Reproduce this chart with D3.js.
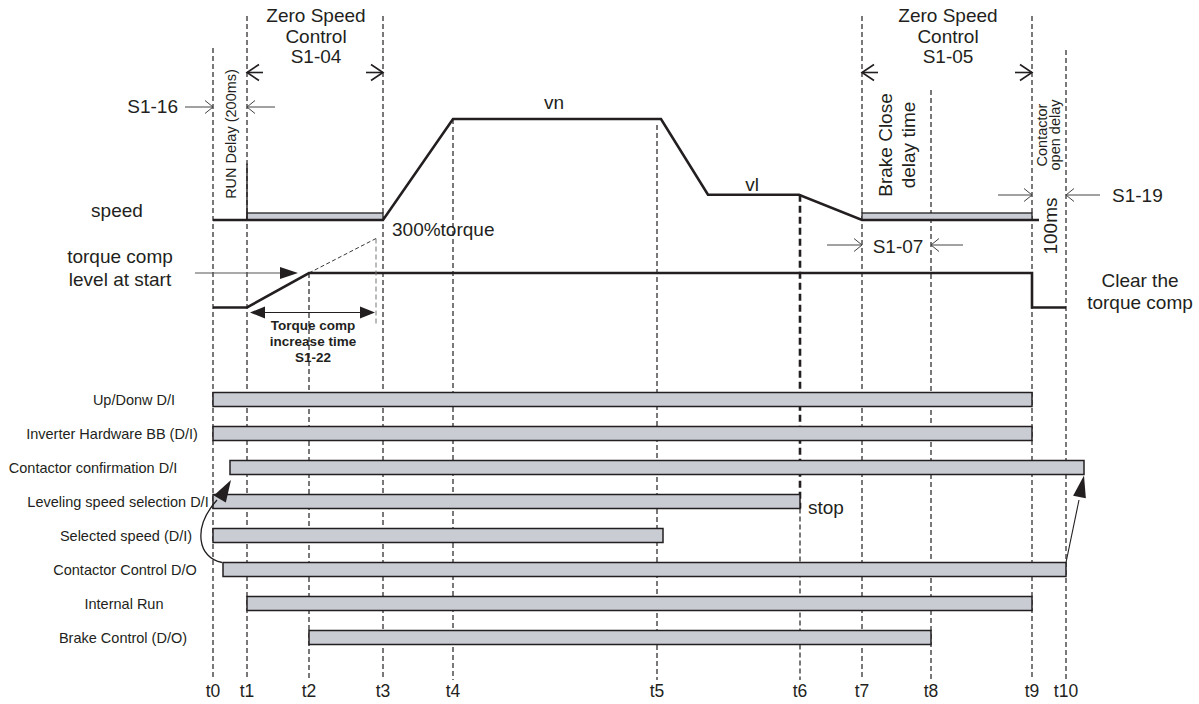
<!DOCTYPE html>
<html><head><meta charset="utf-8">
<script src="https://cdn.jsdelivr.net/npm/d3@7"></script>
<style>
body{margin:0;background:#fff}
svg{display:block}
text{font-family:"Liberation Sans",Arial,Helvetica,sans-serif;fill:#231f20}
</style>
</head><body>
<svg id="c" width="1199" height="704"></svg>
<script>
// ---------------- data ----------------
const timeLabels = ["t0","t1","t2","t3","t4","t5","t6","t7","t8","t9","t10"];
const timeValues = [0, 34, 96, 170, 240, 444, 587, 649, 718, 819, 853];

const speedTimes  = [0, 34, 170, 240, 448, 495, 586, 649, 826];
const speedValues = [0, 0, 0, 100, 100, 25, 25, 0, 0];

const torqueTimes  = [0, 34, 96, 819, 819, 853];
const torqueValues = [0, 0, 100, 100, 0, 0];

const zeroSpeedStart = [34, 649];
const zeroSpeedEnd   = [170, 819];

const signalNames = ["Up/Donw D/I","Inverter Hardware BB (D/I)","Contactor confirmation D/I",
  "Leveling speed selection D/I","Selected speed (D/I)","Contactor Control D/O",
  "Internal Run","Brake Control (D/O)"];
const signalStart = [0, 0, 17, 0, 0, 10, 34, 96];
const signalEnd   = [819, 819, 871, 587, 450, 853, 819, 718];

// ---------------- layout ----------------
const svg = d3.select("#c");
const INK = "#231f20", BAR = "#c9ccd3";
const x = d3.scaleLinear().domain([0, 853]).range([213, 1066]);
const ySpeed = d3.scaleLinear().domain([0, 100]).range([220, 119]);
const yTorque = d3.scaleLinear().domain([0, 100]).range([307.5, 273]);
const yRow = d3.scalePoint().domain(signalNames).range([399.5, 637.5]);
const labelCx = [134, 112, 93, 118, 126, 125, 124, 123];
const lineTop = [48, 16, yTorque(100), 16, ySpeed(100), 125, 0, 16, 90, 16, 50];
const lineBottom = 680;

// vertical dashed time lines
const vg = svg.append("g");
timeValues.forEach((t, i) => {
  if (i === 6) {
    vg.append("line").attr("x1", x(t)).attr("x2", x(t)).attr("y1", ySpeed(25)).attr("y2", yRow(signalNames[3]) + 7)
      .attr("stroke", INK).attr("stroke-width", 2.6).attr("stroke-dasharray", "7,4");
    vg.append("line").attr("x1", x(t)).attr("x2", x(t)).attr("y1", yRow(signalNames[3]) + 7).attr("y2", lineBottom)
      .attr("stroke", INK).attr("stroke-width", 1.2).attr("stroke-dasharray", "5,3");
  } else {
    vg.append("line").attr("x1", x(t)).attr("x2", x(t)).attr("y1", lineTop[i]).attr("y2", lineBottom)
      .attr("stroke", INK).attr("stroke-width", 1.2).attr("stroke-dasharray", "5,3");
  }
});

// time labels
svg.append("g").selectAll("text").data(timeLabels).join("text")
  .attr("x", (d, i) => x(timeValues[i])).attr("y", 697)
  .attr("text-anchor", "middle").attr("font-size", 17.5).text(d => d);

// speed profile: zero-speed bands
zeroSpeedStart.forEach((s, i) => {
  svg.append("rect").attr("x", x(s)).attr("y", ySpeed(0) - 7)
    .attr("width", x(zeroSpeedEnd[i]) - x(s)).attr("height", 7)
    .attr("fill", BAR).attr("stroke", INK).attr("stroke-width", 1.3);
});
const speedLine = d3.line().x(d => x(d[0])).y(d => ySpeed(d[1]));
svg.append("path").datum(d3.zip(speedTimes, speedValues)).attr("d", speedLine)
  .attr("fill", "none").attr("stroke", INK).attr("stroke-width", 2.6).attr("stroke-linejoin", "miter");
svg.append("line").attr("x1", x(34)).attr("x2", x(34)).attr("y1", ySpeed(0)).attr("y2", ySpeed(56))
  .attr("stroke", INK).attr("stroke-width", 1.4);

// torque profile
const torqueLine = d3.line().x(d => x(d[0])).y(d => yTorque(d[1]));
svg.append("path").datum(d3.zip(torqueTimes, torqueValues)).attr("d", torqueLine)
  .attr("fill", "none").attr("stroke", INK).attr("stroke-width", 2.6);
// dashed extension of torque ramp
svg.append("line").attr("x1", x(96)).attr("y1", yTorque(100)).attr("x2", x(163)).attr("y2", 238.5)
  .attr("stroke", INK).attr("stroke-width", 0.9).attr("stroke-dasharray", "4,2.5");
svg.append("line").attr("x1", x(163)).attr("y1", 238.5).attr("x2", x(163)).attr("y2", 324)
  .attr("stroke", "#777").attr("stroke-width", 1).attr("stroke-dasharray", "5,3");

// helpers
function chev(cx, cy, dir, w, h, sw, col) {
  svg.append("path").attr("d", `M${cx - dir * w},${cy - h}L${cx},${cy}L${cx - dir * w},${cy + h}`)
    .attr("fill", "none").attr("stroke", col).attr("stroke-width", sw);
}
function hline(x1, x2, y, sw, col) {
  svg.append("line").attr("x1", x1).attr("x2", x2).attr("y1", y).attr("y2", y)
    .attr("stroke", col).attr("stroke-width", sw);
}
function head(tx, ty, ang, len, hw) {
  const ux = Math.cos(ang), uy = Math.sin(ang);
  const bx = tx - ux * len, by = ty - uy * len;
  svg.append("path").attr("d",
    `M${tx},${ty}L${bx - uy * hw},${by + ux * hw}L${bx + uy * hw},${by - ux * hw}Z`)
    .attr("fill", INK);
}
function txt(s, px, py, size, anchor, extra) {
  const t = svg.append("text").attr("x", px).attr("y", py).attr("font-size", size)
    .attr("text-anchor", anchor || "start").text(s);
  if (extra) extra(t);
  return t;
}
function vtxt(s, px, py, size) {
  svg.append("text").attr("transform", `translate(${px},${py}) rotate(-90)`)
    .attr("font-size", size).attr("text-anchor", "middle").text(s);
}

// torque comp arrow at start level
hline(195, 285, yTorque(100), 1, "#555");
head(298, yTorque(100), 0, 18, 6);
// double arrow increase time
hline(258, 366, 312.5, 1.2, INK);
head(250, 312.5, Math.PI, 15, 6);
head(375, 312.5, 0, 15, 6);
txt("Torque comp", 313, 330, 13.5, "middle", t => t.attr("font-weight", "bold"));
txt("increase time", 313, 346, 13.5, "middle", t => t.attr("font-weight", "bold"));
txt("S1-22", 313, 362, 13.5, "middle", t => t.attr("font-weight", "bold"));

// Zero speed control annotations
[[x(34), x(170), "S1-04"], [x(649), x(819), "S1-05"]].forEach(([a, b, code]) => {
  const cx = (a + b) / 2 + 1;
  txt("Zero Speed", cx, 22, 19, "middle");
  txt("Control", cx, 43, 19, "middle");
  txt(code, cx, 63, 19, "middle");
  hline(a, a + 16, 72.5, 1.6, INK); chev(a, 72.5, -1, 12, 8, 1.6, INK);
  hline(b - 17, b, 72.5, 1.6, INK); chev(b, 72.5, 1, 12, 8, 1.6, INK);
});

// S1-16 run delay
txt("S1-16", 178, 113, 19, "end");
hline(185, x(0), 107, 1, "#444"); chev(x(0), 107, 1, 8, 6.5, 1, "#444");
hline(x(34), 275, 107, 1, "#444"); chev(x(34), 107, -1, 8, 6.5, 1, "#444");
vtxt("RUN Delay (200ms)", 236, 134, 14.5);

// S1-07 brake close delay
hline(827, x(649), 245, 1, "#444"); chev(x(649), 245, 1, 8, 6.5, 1, "#444");
txt("S1-07", 898, 253, 19, "middle");
hline(x(718), 963, 245, 1, "#444"); chev(x(718), 245, -1, 8, 6.5, 1, "#444");
vtxt("Brake Close", 892, 145, 19);
vtxt("delay time", 915, 145, 19);

// S1-19 contactor open delay
hline(998, x(819), 195, 1, "#444"); chev(x(819), 195, 1, 8, 6.5, 1, "#444");
hline(x(853), 1100, 195, 1, "#444"); chev(x(853), 195, -1, 8, 6.5, 1, "#444");
txt("S1-19", 1112, 202, 19, "start");
vtxt("Contactor", 1047, 135, 14.5);
vtxt("open delay", 1060, 135, 14.5);
vtxt("100ms", 1057, 226, 19);

// speed labels
txt("vn", 554, 109, 19, "middle");
txt("vl", 752, 191, 19, "middle");
txt("300%torque", 392, 236, 19, "start");
txt("speed", 117, 217, 19, "middle");
txt("torque comp", 120, 263, 19, "middle");
txt("level at start", 120, 286, 19, "middle");
txt("Clear the", 1140, 287, 19, "middle");
txt("torque comp", 1140, 309, 19, "middle");
txt("stop", 808, 514, 19, "start");

// signal bars
const rows = svg.append("g");
rows.selectAll("rect").data(signalNames).join("rect")
  .attr("x", (d, i) => x(signalStart[i])).attr("y", d => yRow(d) - 7)
  .attr("width", (d, i) => x(signalEnd[i]) - x(signalStart[i])).attr("height", 14)
  .attr("fill", BAR).attr("stroke", INK).attr("stroke-width", 1.5);
rows.selectAll("text").data(signalNames).join("text")
  .attr("x", (d, i) => labelCx[i]).attr("y", d => yRow(d) + 5)
  .attr("text-anchor", "middle").attr("font-size", 14.5).text(d => d);

// contactor arrows
const yCC = yRow(signalNames[5]) - 7;
svg.append("path").attr("d", `M${x(10) - 1},${yCC} C198,558 192,528 217,500`)
  .attr("fill", "none").attr("stroke", INK).attr("stroke-width", 1.3);
head(231, 480, Math.atan2(-22, 13), 22, 7);
const yCF = yRow(signalNames[2]) + 7;
svg.append("path").attr("d", `M${x(853)},${yCC} L1079,500`)
  .attr("fill", "none").attr("stroke", INK).attr("stroke-width", 1.1);
head(1084, yCF + 1, Math.atan2(-86, 18), 22, 6.5);
</script>
</body></html>
